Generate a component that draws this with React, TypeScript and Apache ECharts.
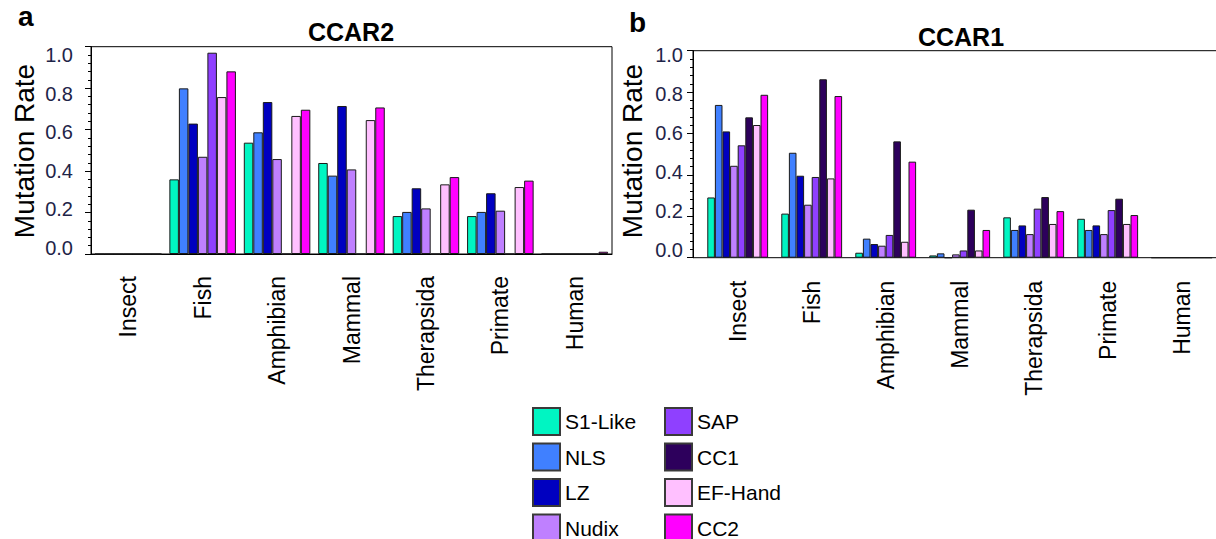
import React, { useEffect, useRef } from "react";
import * as echarts from "echarts";

const CATEGORIES = ["Insect", "Fish", "Amphibian", "Mammal", "Therapsida", "Primate", "Human"];
const TICK_LABELS = ["0.0", "0.2", "0.4", "0.6", "0.8", "1.0"];

// CCAR2 (panel a) – no CC1 domain
const A_S1 = [0, 0.36, 0.537, 0.439, 0.183, 0.183, 0];
const A_NLS = [0, 0.799, 0.587, 0.378, 0.203, 0.203, 0];
const A_LZ = [0, 0.629, 0.733, 0.714, 0.317, 0.293, 0];
const A_NUDIX = [0, 0.469, 0.458, 0.408, 0.22, 0.209, 0];
const A_SAP = [0, 0.971, 0, 0, 0, 0, 0];
const A_EF = [0, 0.757, 0.666, 0.646, 0.336, 0.323, 0];
const A_CC2 = [0, 0.881, 0.696, 0.707, 0.371, 0.354, 0.011];

// CCAR1 (panel b)
const B_S1 = [0.291, 0.213, 0.024, 0.011, 0.195, 0.188, 0];
const B_NLS = [0.738, 0.507, 0.092, 0.021, 0.134, 0.134, 0];
const B_LZ = [0.61, 0.396, 0.066, 0, 0.156, 0.156, 0];
const B_NUDIX = [0.444, 0.256, 0.058, 0.016, 0.114, 0.114, 0];
const B_SAP = [0.543, 0.39, 0.11, 0.035, 0.237, 0.23, 0];
const B_CC1 = [0.678, 0.862, 0.562, 0.232, 0.293, 0.285, 0];
const B_EF = [0.641, 0.383, 0.077, 0.035, 0.163, 0.163, 0];
const B_CC2 = [0.787, 0.781, 0.464, 0.134, 0.225, 0.206, 0];

const COLORS: Record<string, string> = {
  "S1-Like": "#00f5c2",
  NLS: "#4080ff",
  LZ: "#0000c0",
  Nudix: "#bf80ff",
  SAP: "#8f40ff",
  CC1: "#2d005c",
  "EF-Hand": "#ffc0ff",
  CC2: "#ff00ff",
};

const LEFT: [string, number[]][] = [
  ["S1-Like", A_S1],
  ["NLS", A_NLS],
  ["LZ", A_LZ],
  ["Nudix", A_NUDIX],
  ["SAP", A_SAP],
  ["EF-Hand", A_EF],
  ["CC2", A_CC2],
];
const RIGHT: [string, number[]][] = [
  ["S1-Like", B_S1],
  ["NLS", B_NLS],
  ["LZ", B_LZ],
  ["Nudix", B_NUDIX],
  ["SAP", B_SAP],
  ["CC1", B_CC1],
  ["EF-Hand", B_EF],
  ["CC2", B_CC2],
];

const LEGEND_COL1 = ["S1-Like", "NLS", "LZ", "Nudix"];
const LEGEND_COL2 = ["SAP", "CC1", "EF-Hand", "CC2"];

const FONT = "'Liberation Sans', Arial, sans-serif";

function valueAxis(gridIndex: number) {
  return {
    type: "value",
    gridIndex,
    min: 0,
    max: 1,
    interval: 0.2,
    axisLine: { show: true, lineStyle: { color: "#000", width: 1 } },
    axisTick: { show: true, length: 6, inside: false, lineStyle: { color: "#000" } },
    minorTick: { show: true, splitNumber: 5, length: 3, lineStyle: { color: "#000" } },
    axisLabel: { show: false },
    splitLine: { show: false },
    minorSplitLine: { show: false },
  };
}

function labelAxis(gridIndex: number, margin: number) {
  return {
    type: "category",
    gridIndex,
    data: TICK_LABELS,
    boundaryGap: false,
    axisLine: { show: false },
    axisTick: { show: false },
    splitLine: { show: false },
    axisLabel: { interval: 0, margin, fontSize: 20, color: "#1e2448", fontFamily: FONT },
  };
}

function catAxis(gridIndex: number, margin: number, showLine: boolean) {
  return {
    type: "category",
    gridIndex,
    data: CATEGORIES,
    axisLine: { show: showLine, lineStyle: { color: "#000" } },
    axisTick: { show: false },
    splitLine: { show: false },
    axisLabel: { interval: 0, rotate: 90, margin, fontSize: 23, color: "#000", fontFamily: FONT },
  };
}

const hiddenX = (gridIndex: number) => ({ type: "value", gridIndex, show: false });

function bars(list: [string, number[]][], axisIndex: number, gap: string) {
  return list.map(([name, data]) => ({
    type: "bar",
    name,
    data,
    xAxisIndex: axisIndex,
    yAxisIndex: axisIndex,
    barGap: "0%",
    barCategoryGap: gap,
    itemStyle: { color: COLORS[name], borderColor: "#1a1a1a", borderWidth: 1 },
    emphasis: { disabled: true },
  }));
}

const legendBase = {
  orient: "vertical",
  icon: "rect",
  itemWidth: 27,
  itemHeight: 27,
  itemGap: 6.5,
  padding: 0,
  height: 300,
  selectedMode: false,
  itemStyle: { borderColor: "#3a3a3a", borderWidth: 2 },
  textStyle: { fontSize: 21, color: "#000", fontFamily: FONT },
};

export default function App() {
  const ref = useRef<HTMLDivElement>(null);
  useEffect(() => {
    if (!ref.current) return;
    const chart = echarts.init(ref.current, null, { renderer: "svg" });
    const option: any = {
      animation: false,
      backgroundColor: "#fff",
      title: [
        { text: "CCAR2", left: 351, top: 19, textAlign: "center", padding: 0, textStyle: { fontSize: 25, fontWeight: "bold", color: "#000", fontFamily: FONT } },
        { text: "CCAR1", left: 961, top: 24, textAlign: "center", padding: 0, textStyle: { fontSize: 25, fontWeight: "bold", color: "#000", fontFamily: FONT } },
      ],
      grid: [
        { left: 91, top: 46.7, width: 521, height: 207.3, show: true, borderColor: "#000", borderWidth: 1, outerBoundsMode: "none" },
        { left: 91, top: 55, width: 10, height: 193, outerBoundsMode: "none" },
        { left: 693, top: 50.7, width: 600, height: 207, show: true, borderColor: "#000", borderWidth: 1, outerBoundsMode: "none" },
        { left: 700.7, top: 50.7, width: 518, height: 207, outerBoundsMode: "none" },
        { left: 693, top: 55, width: 10, height: 195, outerBoundsMode: "none" },
      ],
      xAxis: [
        catAxis(0, 22, true),
        hiddenX(1),
        hiddenX(2),
        catAxis(3, 23, false),
        hiddenX(4),
      ],
      yAxis: [
        valueAxis(0),
        labelAxis(1, 18),
        valueAxis(2),
        { type: "value", gridIndex: 3, min: 0, max: 1, show: false },
        labelAxis(4, 10),
      ],
      legend: [
        { ...legendBase, left: 532, top: 407, data: LEGEND_COL1 },
        { ...legendBase, left: 664, top: 407, data: LEGEND_COL2 },
      ],
      graphic: [
        { type: "text", x: 18, y: 16, style: { text: "a", fontSize: 28, fontWeight: "bold", fill: "#000", fontFamily: FONT, textAlign: "left", textVerticalAlign: "middle" } },
        { type: "text", x: 629, y: 22, style: { text: "b", fontSize: 28, fontWeight: "bold", fill: "#000", fontFamily: FONT, textAlign: "left", textVerticalAlign: "middle" } },
        { type: "text", x: 24, y: 151, rotation: Math.PI / 2, style: { text: "Mutation Rate", fontSize: 28, fill: "#000", fontFamily: FONT, textAlign: "center", textVerticalAlign: "middle" } },
        { type: "text", x: 632, y: 151, rotation: Math.PI / 2, style: { text: "Mutation Rate", fontSize: 28, fill: "#000", fontFamily: FONT, textAlign: "center", textVerticalAlign: "middle" } },
      ],
      series: [...bars(LEFT, 0, "10.6%"), ...bars(RIGHT, 3, "17.8%")],
    };
    chart.setOption(option);
    return () => chart.dispose();
  }, []);
  return <div ref={ref} style={{ position: "absolute", left: 0, top: 0, width: 1216, height: 539, background: "#fff" }} />;
}
